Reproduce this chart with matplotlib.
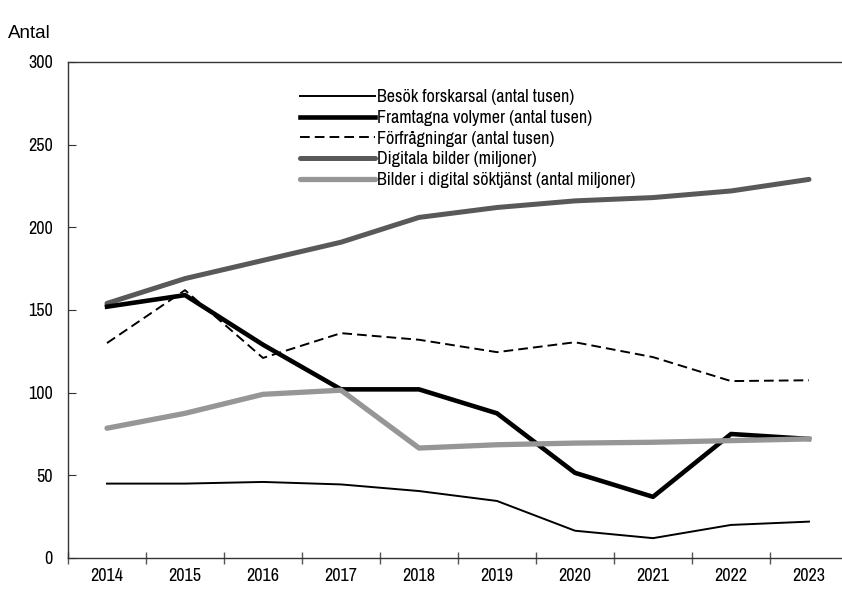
import numpy as np
import matplotlib
matplotlib.use("Agg")
import matplotlib.pyplot as plt
from matplotlib import font_manager

years = ["2014", "2015", "2016", "2017", "2018", "2019", "2020", "2021", "2022", "2023"]

besok = [45, 45, 46, 44.5, 40.5, 34.5, 16.5, 12, 20, 22]
volymer = [152, 159, 129, 102, 102, 87.5, 51.5, 37, 75, 72]
forfragningar = [130, 162, 121, 136, 132, 124.5, 130.5, 121.5, 107, 107.5]
digitala = [154, 169, 180, 191, 206, 212, 216, 218, 222, 229]
soktjanst = [78.5, 87.5, 99, 101.5, 66.5, 68.5, 69.5, 70, 71, 72]

# narrow font: take the first one that exists
have = {f.name for f in font_manager.fontManager.ttflist}
narrow = next((n for n in ["Archivo Narrow", "Roboto Condensed", "Liberation Sans Narrow"]
               if n in have), "DejaVu Sans")
narrow_prop = font_manager.FontProperties(family=narrow, size=13)

fig = plt.figure(figsize=(8.42, 5.90), dpi=100)
ax = fig.add_axes([68 / 842, 32 / 590, 780 / 842, 496 / 590])

x = np.arange(len(years))
l_dig, = ax.plot(x, digitala, color="#595959", lw=3.6, solid_capstyle="round")
l_vol, = ax.plot(x, volymer, color="black", lw=3.3)
l_bes, = ax.plot(x, besok, color="black", lw=1.4)
l_for, = ax.plot(x, forfragningar, color="black", lw=1.4, ls=(0, (5, 2.6)))
l_sok, = ax.plot(x, soktjanst, color="#969696", lw=3.8, solid_capstyle="round")

leg = ax.legend([l_bes, l_vol, l_for, l_dig, l_sok],
                ["Besök forskarsal (antal tusen)", "Framtagna volymer (antal tusen)",
                 "Förfrågningar (antal tusen)", "Digitala bilder (miljoner)",
                 "Bilder i digital söktjänst (antal miljoner)"],
                loc="upper left", bbox_to_anchor=(0.297, 0.945), frameon=False,
                borderaxespad=0, borderpad=0,
                handlelength=4.15, handletextpad=0.12, labelspacing=0.26,
                prop=narrow_prop)

ax.set_xlim(-0.5, 9.5)
ax.set_ylim(0, 300)
ax.set_yticks(np.arange(0, 301, 50))
ax.set_xticks(np.arange(-0.5, 10, 1))
ax.set_xticklabels([])
ax.set_xticks(x, minor=True)
ax.set_xticklabels(years, minor=True, fontproperties=narrow_prop)
ax.tick_params(axis="x", which="major", direction="inout", length=9, width=1, color="#555555")
ax.tick_params(axis="x", which="minor", length=0, pad=7)
ax.tick_params(axis="y", direction="in", length=6, pad=11, color="#333333")
for lab in ax.get_yticklabels():
    lab.set_fontproperties(narrow_prop)

for s in ["left", "bottom", "top"]:
    ax.spines[s].set_color("#333333")
    ax.spines[s].set_linewidth(1.0)
ax.spines["right"].set_visible(False)

fig.text(8 / 842, 1 - 33 / 590, "Antal", fontsize=13.5, va="center", ha="left",
         family="Liberation Sans")

fig.savefig("out.png", dpi=100)
